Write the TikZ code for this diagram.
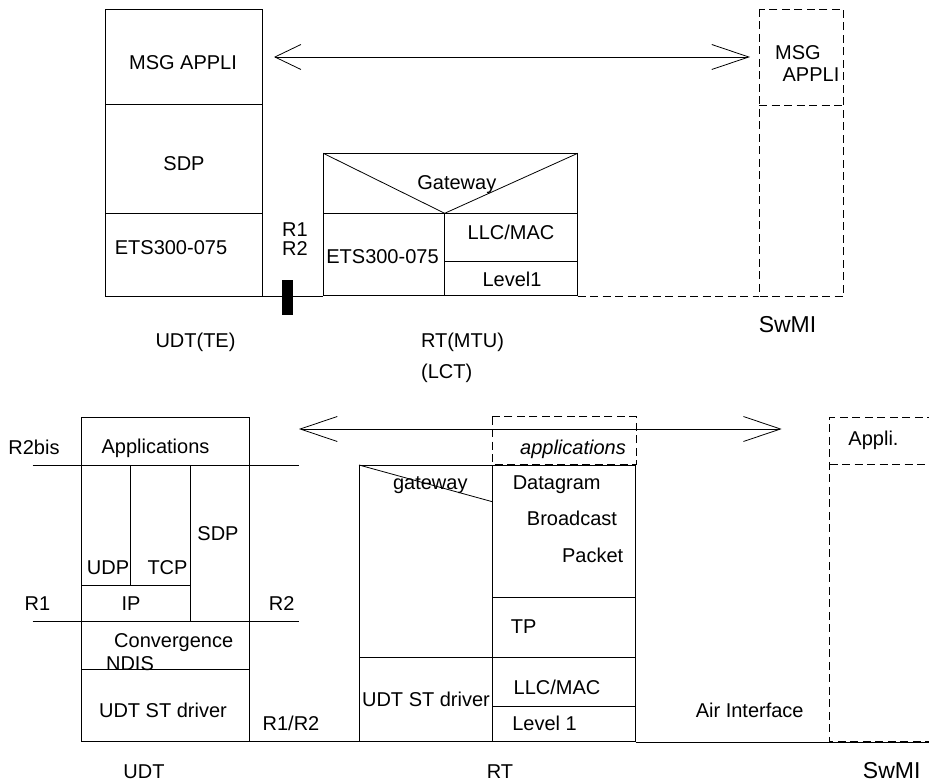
\documentclass[tikz,border=0pt]{standalone}
\usepackage{fontspec}
\setmainfont{Liberation Sans}
\usetikzlibrary{arrows.meta}
\begin{document}
\begin{tikzpicture}[x=1pt,y=-1pt,line width=0.8pt,
  txt/.style={inner sep=0pt,text height=14.3pt,text depth=0pt,font=\fontsize{20}{24}\selectfont},
  bigtxt/.style={inner sep=0pt,text height=16.5pt,text depth=0pt,font=\fontsize{23}{27}\selectfont},
  dashbox/.style={draw,dash pattern=on 8pt off 4.5pt}]
\useasboundingbox (0,0) rectangle (929,783);

% ---------- upper stack: UDT(TE) ----------
\draw (105.7,9) rectangle (262.3,296);
\draw (105.7,104.3) -- (262.3,104.3);
\draw (105.7,213.3) -- (262.3,213.3);
\node[txt] (msgA) at (183,62) {MSG APPLI};
\node[txt] (sdpA) at (184,163) {SDP};
\node[txt] (etsA) at (171,247) {ETS300-075};

% R1/R2 reference point
\fill (282,280) rectangle (292.7,315);
\draw (262.3,296) -- (323.3,296);
\node[txt] (rA) at (295,229) {R1};
\node[txt] (rB) at (295,248.3) {R2};

% ---------- upper stack: RT(MTU) ----------
\draw (323.3,153.3) rectangle (577.7,295.7);
\draw (323.3,213.3) -- (577.7,213.3);
\draw (444.7,213.3) -- (444.7,295.7);
\draw (444.7,261.7) -- (577.7,261.7);
\draw (323.3,153.3) -- (444.7,213.3) -- (577.7,153.3);
\node[txt] (gwA) at (456.8,182.7) {Gateway};
\node[txt] (etsB) at (382.5,256.7) {ETS300-075};
\node[txt] (llcA) at (511,232) {LLC/MAC};
\node[txt] (lvlA) at (512,279.3) {Level1};

% ---------- upper stack: SwMI ----------
\draw[dashbox] (577.7,296) -- (759,296);
\draw[dashbox] (759,9) rectangle (843.7,296);
\draw[dashbox] (759,105) -- (843.7,105);
\node[txt] (msgB) at (798,52) {MSG};
\node[txt] (appB) at (811,74) {APPLI};

% peer-to-peer arrow
\coordinate (pA) at (274,57);
\coordinate (pB) at (750,57);
\draw[{Straight Barb[length=26pt,width=25pt]}-{Straight Barb[length=37pt,width=25pt]}] (pA) -- (pB);

% upper captions
\node[txt] (capA) at (195.5,340) {UDT(TE)};
\node[txt] (capB) at (462.5,340) {RT(MTU)};
\node[txt] (capC) at (446.7,371) {(LCT)};
\node[bigtxt] (capD) at (787.5,324) {SwMI};

% ---------- lower stack: UDT ----------
\draw (81.7,417.3) rectangle (249.3,741);
\draw (32.7,465) -- (299,465);
\draw (130,465) -- (130,585);
\draw (190,465) -- (190,621.5);
\draw (81.7,585) -- (190,585);
\draw (32.7,621.5) -- (299,621.5);
\draw (81.7,669.3) -- (249.3,669.3);
\node[txt] (r2bis) at (34,447) {R2bis};
\node[txt] (appl) at (155.5,446.5) {Applications};
\node[txt] (sdpC) at (218,533) {SDP};
\node[txt] (udp) at (108,567) {UDP};
\node[txt] (tcp) at (167.5,567) {TCP};
\node[txt] (rC) at (37.5,603) {R1};
\node[txt] (ip) at (131,603) {IP};
\node[txt] (rD) at (281.7,603) {R2};
\node[txt] (conv) at (173.7,640) {Convergence};
\node[txt] (ndis) at (130,663) {NDIS};
\node[txt] (drvA) at (163,710.7) {UDT ST driver};

\draw (249.3,741.5) -- (359,741.5);
\node[txt] (rE) at (291,723) {R1/R2};

% ---------- lower stack: RT ----------
\draw[dashbox] (492.3,416.7) rectangle (636,464.3);
\node[txt,font=\fontsize{20}{24}\selectfont\itshape] (applB) at (573,447) {applications};
\draw (359,465) rectangle (635.7,741);
\draw (492.3,465) -- (492.3,741);
\draw (359,465) -- (492.3,501.7);
\draw (492.3,597.3) -- (635.7,597.3);
\draw (359,657.7) -- (635.7,657.7);
\draw (492.3,706) -- (635.7,706);
\node[txt] (gwB) at (430.3,482) {gateway};
\node[txt] (dgram) at (556.7,482) {Datagram};
\node[txt] (bcast) at (572,518.3) {Broadcast};
\node[txt] (pkt) at (592.7,555.7) {Packet};
\node[txt] (tp) at (523.7,626.7) {TP};
\node[txt] (drvB) at (426,699.3) {UDT ST driver};
\node[txt] (llcB) at (557,687.7) {LLC/MAC};
\node[txt] (lvlB) at (544.5,723.3) {Level 1};

% air interface and SwMI
\draw (635.7,742) -- (935,742);
\node[txt] (air) at (749.7,710.7) {Air Interface};
\draw[dashbox] (935,417.3) -- (829.5,417.3) -- (829.5,741) -- (935,741);
\draw[dashbox] (829.5,464.3) -- (935,464.3);
\node[txt] (appC) at (873.5,438.3) {Appli.};

% peer-to-peer arrow
\coordinate (qA) at (299,429);
\coordinate (qB) at (781.7,429);
\draw[{Straight Barb[length=37pt,width=25pt]}-{Straight Barb[length=37pt,width=25pt]}] (qA) -- (qB);

% lower captions
\node[txt] (capE) at (144,771) {UDT};
\node[txt] (capF) at (500,771) {RT};
\node[bigtxt] (capG) at (891.7,770) {SwMI};
\end{tikzpicture}
\end{document}
